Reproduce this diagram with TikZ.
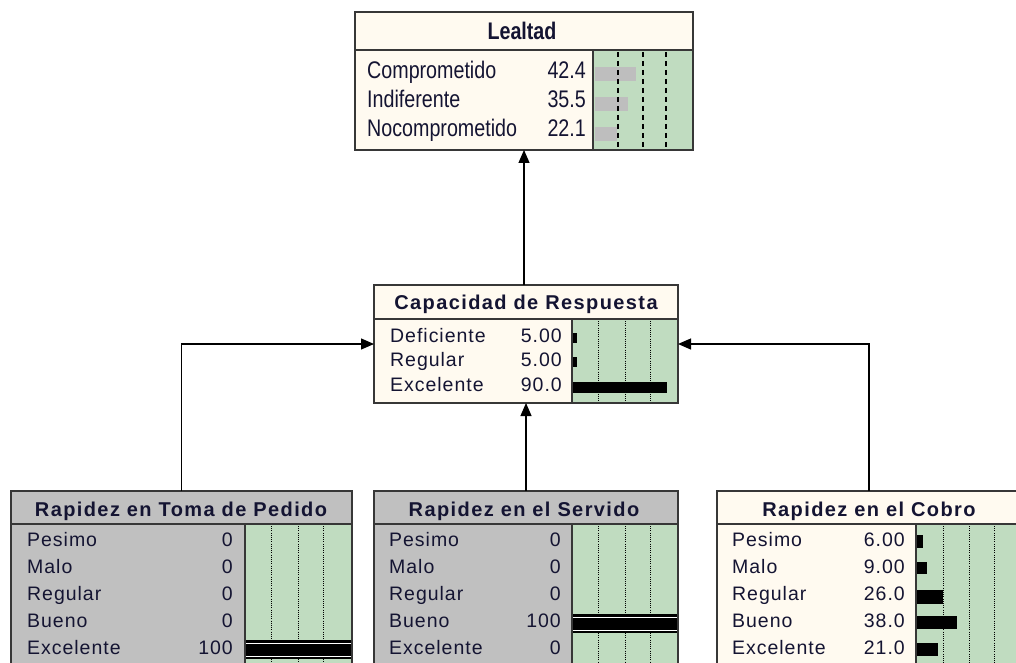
\documentclass[tikz,border=0pt]{standalone}
\usepackage{fontspec}
\setmainfont{Liberation Sans}
\newfontfamily\narrowf[FakeStretch=0.82]{Liberation Sans}
\newfontfamily\narrowbf[FakeStretch=0.82]{Liberation Sans Bold}
\newfontfamily\spacedf[LetterSpace=5]{Liberation Sans}
\newfontfamily\titlef[LetterSpace=7]{Liberation Sans Bold}
\usetikzlibrary{arrows.meta}
\definecolor{cream}{RGB}{255,250,240}
\definecolor{nodegray}{RGB}{192,192,192}
\definecolor{bargreen}{RGB}{192,220,192}
\definecolor{bargray}{RGB}{190,190,190}
\definecolor{txt}{RGB}{20,20,50}
\definecolor{edgec}{RGB}{55,55,55}
\tikzset{
  boxnode/.style={inner sep=0pt, outer sep=0pt, anchor=north west},
  frame/.style={draw=edgec, line width=1.5pt},
  sep/.style={draw=edgec, line width=2pt},
  dashl/.style={draw=black, line width=1.2pt, dash pattern=on 5pt off 4pt},
  dotl/.style={draw=black, line width=0.9pt, dash pattern=on 1pt off 1.2pt},
  lab/.style={anchor=base west, text=txt, inner sep=0pt, font=\spacedf\fontsize{19.5}{21}\selectfont},
  val/.style={anchor=base east, text=txt, inner sep=0pt, font=\spacedf\fontsize{19.5}{21}\selectfont},
  ttl/.style={anchor=base, text=txt, inner sep=0pt, font=\titlef\fontsize{20}{22}\selectfont},
  nlab/.style={anchor=base west, text=txt, inner sep=0pt, font=\narrowf\fontsize{24}{26}\selectfont},
  nval/.style={anchor=base east, text=txt, inner sep=0pt, font=\narrowf\fontsize{24}{26}\selectfont},
  conn/.style={draw=black, line width=1.2pt, -{Triangle[length=13pt,width=11pt]}},
}
\begin{document}
\begin{tikzpicture}[x=1pt,y=-1pt]
\useasboundingbox (0,0) rectangle (1016,663);
\clip (0,0) rectangle (1016,663);
\fill[white] (0,0) rectangle (1016,663);

% ---------------- Lealtad ----------------
\node[boxnode, fill=cream, minimum width=338pt, minimum height=138pt] (leal) at (355,12) {};
\fill[bargreen] (593,50) rectangle (693,150);
\fill[bargray] (595,67) rectangle (636,81);
\fill[bargray] (595,97) rectangle (628,111);
\fill[bargray] (595,127) rectangle (617,141);
\foreach \x in {618,643,666} \draw[dashl] (\x,52) -- (\x,150);
\draw[sep] (355,50) -- (693,50);
\draw[frame] (593,50) -- (593,150);
\draw[frame] (leal.north west) rectangle (leal.south east);
\node[anchor=base, text=txt, inner sep=0pt, font=\narrowbf\fontsize{24}{26}\selectfont] (lealT) at (522,40) {Lealtad};
\node[nlab] (lealA) at (367,79) {Comprometido};
\node[nlab] (lealB) at (367,108) {Indiferente};
\node[nlab] (lealC) at (367,137) {Nocomprometido};
\node[nval] (lealAv) at (586,79) {42.4};
\node[nval] (lealBv) at (586,108) {35.5};
\node[nval] (lealCv) at (586,137) {22.1};

% ---------------- Capacidad de Respuesta ----------------
\node[boxnode, fill=cream, minimum width=304pt, minimum height=118pt] (cap) at (374,285) {};
\fill[bargreen] (572,319) rectangle (678,403);
\foreach \x in {598,625,650} \draw[dotl] (\x,321) -- (\x,403);
\fill[black] (572,333) rectangle (577,343);
\fill[black] (572,357) rectangle (577,367);
\fill[black] (572,382) rectangle (667,393);
\draw[sep] (374,319) -- (678,319);
\draw[frame] (572,319) -- (572,403);
\draw[frame] (cap.north west) rectangle (cap.south east);
\node[ttl] (capT) at (526,309) {Capacidad de Respuesta};
\node[lab] (capA) at (390,342) {Deficiente};
\node[lab] (capB) at (390,366) {Regular};
\node[lab] (capC) at (390,391) {Excelente};
\node[val] (capAv) at (562,342) {5.00};
\node[val] (capBv) at (562,366) {5.00};
\node[val] (capCv) at (562,391) {90.0};

% ---------------- Rapidez en Toma de Pedido ----------------
\node[boxnode, fill=nodegray, minimum width=341pt, minimum height=200pt] (t1) at (11,491) {};
\fill[bargreen] (245,524) rectangle (352,691);
\foreach \x in {271,298,323} {\draw[dotl] (\x,526) -- (\x,640); \draw[dotl] (\x,659) -- (\x,691);}
\fill[black] (245,640) rectangle (352,659);
\draw[white, line width=1pt] (245,643) -- (352,643);
\draw[white, line width=1pt] (245,656) -- (352,656);
\draw[sep] (11,524) -- (352,524);
\draw[frame] (245,524) -- (245,691);
\draw[frame] (t1.north west) rectangle (t1.south east);
\node[ttl] (t1T) at (181,516) {Rapidez en Toma de Pedido};
\node[lab] (t1a) at (27,546) {Pesimo};
\node[lab] (t1b) at (27,573) {Malo};
\node[lab] (t1c) at (27,600) {Regular};
\node[lab] (t1d) at (27,627) {Bueno};
\node[lab] (t1e) at (27,654) {Excelente};
\node[val] (t1av) at (233,546) {0};
\node[val] (t1bv) at (233,573) {0};
\node[val] (t1cv) at (233,600) {0};
\node[val] (t1dv) at (233,627) {0};
\node[val] (t1ev) at (233,654) {100};

% ---------------- Rapidez en el Servido ----------------
\node[boxnode, fill=nodegray, minimum width=304pt, minimum height=200pt] (t2) at (374,491) {};
\fill[bargreen] (572,524) rectangle (678,691);
\foreach \x in {598,625,650} {\draw[dotl] (\x,526) -- (\x,614); \draw[dotl] (\x,633) -- (\x,691);}
\fill[black] (572,614) rectangle (678,633);
\draw[white, line width=1pt] (572,617) -- (678,617);
\draw[white, line width=1pt] (572,630) -- (678,630);
\draw[sep] (374,524) -- (678,524);
\draw[frame] (572,524) -- (572,691);
\draw[frame] (t2.north west) rectangle (t2.south east);
\node[ttl] (t2T) at (524,516) {Rapidez en el Servido};
\node[lab] (t2a) at (389,546) {Pesimo};
\node[lab] (t2b) at (389,573) {Malo};
\node[lab] (t2c) at (389,600) {Regular};
\node[lab] (t2d) at (389,627) {Bueno};
\node[lab] (t2e) at (389,654) {Excelente};
\node[val] (t2av) at (561,546) {0};
\node[val] (t2bv) at (561,573) {0};
\node[val] (t2cv) at (561,600) {0};
\node[val] (t2dv) at (561,627) {100};
\node[val] (t2ev) at (561,654) {0};

% ---------------- Rapidez en el Cobro ----------------
\node[boxnode, fill=cream, minimum width=304pt, minimum height=200pt] (t3) at (717,491) {};
\fill[bargreen] (916,524) rectangle (1021,691);
\foreach \x in {943,969,994} \draw[dotl] (\x,526) -- (\x,691);
\fill[black] (916,535) rectangle (923,548);
\fill[black] (916,562) rectangle (927,574);
\fill[black] (916,590) rectangle (943,604);
\fill[black] (916,616) rectangle (957,629);
\fill[black] (916,643) rectangle (938,656);
\draw[sep] (717,524) -- (1021,524);
\draw[frame] (916,524) -- (916,691);
\draw[frame] (t3.north west) rectangle (t3.south east);
\node[ttl] (t3T) at (869,516) {Rapidez en el Cobro};
\node[lab] (t3a) at (732,546) {Pesimo};
\node[lab] (t3b) at (732,573) {Malo};
\node[lab] (t3c) at (732,600) {Regular};
\node[lab] (t3d) at (732,627) {Bueno};
\node[lab] (t3e) at (732,654) {Excelente};
\node[val] (t3av) at (905,546) {6.00};
\node[val] (t3bv) at (905,573) {9.00};
\node[val] (t3cv) at (905,600) {26.0};
\node[val] (t3dv) at (905,627) {38.0};
\node[val] (t3ev) at (905,654) {21.0};

% ---------------- Connectors ----------------
\draw[conn] (leal.south |- cap.north) -- (leal.south);
\draw[conn] (t1.north) |- (cap.west);
\draw[conn] (t2.north) -- (cap.south);
\draw[conn] (t3.north) |- (cap.east);
\end{tikzpicture}
\end{document}
